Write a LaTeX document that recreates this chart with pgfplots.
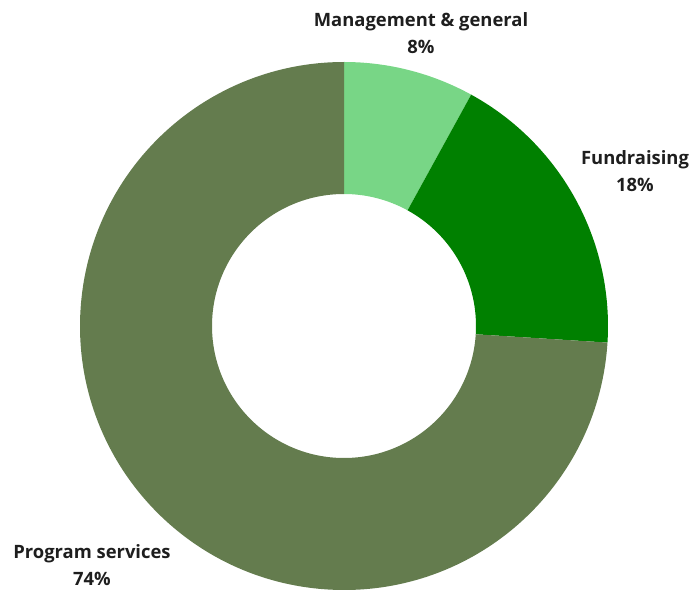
\documentclass[border=0pt]{standalone}
\usepackage{pgfplots}
\pgfplotsset{compat=1.18}
\usepackage{fontspec}
\setmainfont{Open Sans}[BoldFont={* Bold}]

\definecolor{mgmt}{RGB}{120,214,134}
\definecolor{fund}{RGB}{0,128,0}
\definecolor{prog}{RGB}{100,124,78}
\definecolor{lbl}{RGB}{30,30,30}

% shares in percent
\def\vMgmt{8}
\def\vFund{18}
\def\vProg{74}

% centre and radii (axis units = pt)
\def\cx{344}
\def\cy{266}
\def\Ro{264}
\def\Ri{132}

% #1 = percent already used, #2 = share, #3 = colour
\newcommand\slice[3]{%
  \pgfmathsetmacro\aS{90-3.6*(#1)}%
  \pgfmathsetmacro\aE{90-3.6*(#1+#2)}%
  \pgfmathsetmacro\xa{\cx+\Ro*cos(\aS)}%
  \pgfmathsetmacro\ya{\cy+\Ro*sin(\aS)}%
  \pgfmathsetmacro\xb{\cx+\Ri*cos(\aE)}%
  \pgfmathsetmacro\yb{\cy+\Ri*sin(\aE)}%
  \edef\tmp{\noexpand\fill[#3] (axis cs:\xa,\ya)
    arc[start angle=\aS, end angle=\aE, radius=\Ro pt]
    -- (axis cs:\xb,\yb)
    arc[start angle=\aE, end angle=\aS, radius=\Ri pt] -- cycle;}%
  \tmp}

\begin{document}
\begin{tikzpicture}
\begin{axis}[
  scale only axis,
  width=695pt, height=592pt,
  xmin=0, xmax=695, ymin=0, ymax=592,
  hide axis, clip=false,
  ]
  \slice{0}{\vMgmt}{mgmt}
  \slice{\vMgmt}{\vFund}{fund}
  \slice{\vMgmt+\vFund}{\vProg}{prog}

  \begin{scope}[every node/.style={align=center, text=lbl,
      font=\fontsize{18.4}{27.5}\selectfont\bfseries}]
    \node at (axis cs:421,559) {Management \& general\\\vMgmt\%};
    \node at (axis cs:635,421) {Fundraising\\\vFund\%};
    \node at (axis cs:92,27) {Program services\\\vProg\%};
  \end{scope}
\end{axis}
\pgfresetboundingbox
\path[use as bounding box] (current axis.south west) rectangle (current axis.north east);
\end{tikzpicture}
\end{document}
